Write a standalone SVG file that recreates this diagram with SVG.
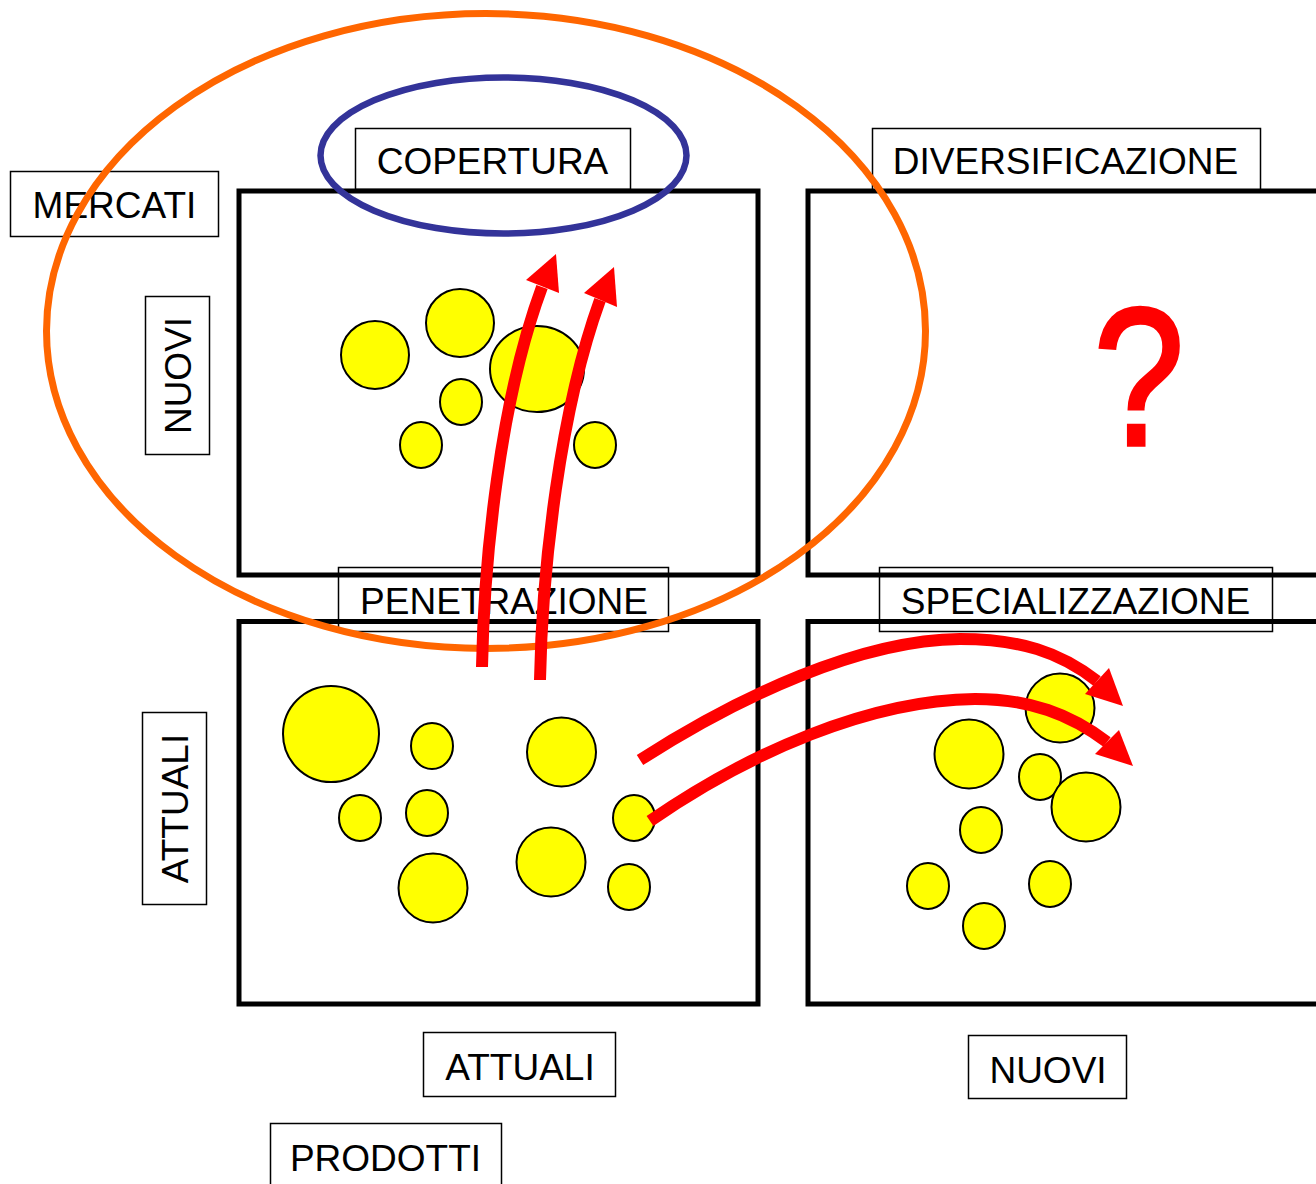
<svg xmlns="http://www.w3.org/2000/svg" width="1316" height="1184" viewBox="0 0 1316 1184">
<style>
.quad{fill:none;stroke:#000;stroke-width:5}
.lbl{fill:none;stroke:#000;stroke-width:1.5}
.txt{font-family:"Liberation Sans",Arial,sans-serif;font-size:37px;fill:#000;text-anchor:middle}
.dot{fill:#FFFF00;stroke:#000;stroke-width:2}
.arr{fill:none;stroke:#FF0000;stroke-width:12}
.head{fill:#FF0000}
</style>
<rect width="1316" height="1184" fill="#fff"/>
<g id="quadrants">
<rect id="q-tl" class="quad" x="239" y="191" width="519" height="384"/>
<rect id="q-tr" class="quad" x="808" y="191" width="530" height="384"/>
<rect id="q-bl" class="quad" x="239" y="621.5" width="519" height="382.5"/>
<rect id="q-br" class="quad" x="808" y="621.5" width="530" height="382.5"/>
</g>
<g id="dots-tl">
<circle class="dot" cx="375" cy="355" r="34"/>
<circle class="dot" cx="460" cy="323" r="34"/>
<ellipse class="dot" cx="537" cy="369" rx="47" ry="43"/>
<ellipse class="dot" cx="461" cy="402" rx="21" ry="23"/>
<ellipse class="dot" cx="421" cy="445" rx="21" ry="23"/>
<ellipse class="dot" cx="595" cy="445" rx="21" ry="23"/>
</g>
<g id="dots-bl">
<circle class="dot" cx="331" cy="734" r="48"/>
<ellipse class="dot" cx="432" cy="746" rx="21" ry="23"/>
<circle class="dot" cx="561.5" cy="752" r="34.5"/>
<ellipse class="dot" cx="360" cy="818" rx="21" ry="23"/>
<ellipse class="dot" cx="427" cy="813" rx="21" ry="23"/>
<ellipse class="dot" cx="634" cy="818" rx="21" ry="23"/>
<circle class="dot" cx="433" cy="888" r="34.5"/>
<circle class="dot" cx="551" cy="862" r="34.5"/>
<ellipse class="dot" cx="629" cy="887" rx="21" ry="23"/>
</g>
<g id="dots-br">
<circle class="dot" cx="1060" cy="708" r="34.5"/>
<circle class="dot" cx="969" cy="754" r="34.5"/>
<ellipse class="dot" cx="1040" cy="777" rx="21" ry="23"/>
<circle class="dot" cx="1086" cy="807" r="34.5"/>
<ellipse class="dot" cx="981" cy="830" rx="21" ry="23"/>
<ellipse class="dot" cx="928" cy="886" rx="21" ry="23"/>
<ellipse class="dot" cx="1050" cy="884" rx="21" ry="23"/>
<ellipse class="dot" cx="984" cy="926" rx="21" ry="23"/>
</g>
<g id="label-mercati"><rect class="lbl" x="10.5" y="171.5" width="208" height="65"/><text class="txt" x="114.5" y="218">MERCATI</text></g>
<g id="label-copertura"><rect class="lbl" x="355.5" y="128.5" width="275" height="61"/><text class="txt" x="492.5" y="174">COPERTURA</text></g>
<g id="label-diversificazione"><rect class="lbl" x="872.5" y="128.5" width="388" height="62"/><text class="txt" x="1065.5" y="174">DIVERSIFICAZIONE</text></g>
<g id="label-penetrazione"><rect class="lbl" x="338.5" y="567.5" width="330" height="64"/><text class="txt" x="504" y="614">PENETRAZIONE</text></g>
<g id="label-specializzazione"><rect class="lbl" x="879.5" y="567.5" width="393" height="64"/><text class="txt" x="1075.5" y="614">SPECIALIZZAZIONE</text></g>
<g id="label-nuovi-v"><rect class="lbl" x="145.5" y="296.5" width="64" height="158"/><text class="txt" transform="translate(191 375.5) rotate(-90)">NUOVI</text></g>
<g id="label-attuali-v"><rect class="lbl" x="142.5" y="712.5" width="64" height="192"/><text class="txt" transform="translate(188 808.5) rotate(-90)">ATTUALI</text></g>
<g id="label-attuali-h"><rect class="lbl" x="423.5" y="1032.5" width="192" height="64"/><text class="txt" x="520" y="1080">ATTUALI</text></g>
<g id="label-nuovi-h"><rect class="lbl" x="968.5" y="1035.5" width="158" height="63"/><text class="txt" x="1048" y="1083">NUOVI</text></g>
<g id="label-prodotti"><rect class="lbl" x="270.5" y="1123.5" width="231" height="70"/><text class="txt" x="385.5" y="1171">PRODOTTI</text></g>
<g id="question"><text transform="translate(1139 444.5) scale(0.86 1.04)" style="font-family:'Liberation Sans',Arial,sans-serif;font-size:190px;fill:#FF0000;stroke:#FF0000;stroke-width:3.5;stroke-linejoin:miter;text-anchor:middle">?</text></g>
<g id="ellipses">
<ellipse id="copertura-ring" cx="503.5" cy="155.5" rx="183" ry="78" fill="none" stroke="#333399" stroke-width="6.5"/>
<ellipse id="mercati-nuovi-ring" cx="486" cy="331" rx="439.5" ry="317.5" fill="none" stroke="#FF6600" stroke-width="7"/>
</g>
<g id="connectors">
<path class="arr" d="M482,667 C484,560 500,400 542,287"/>
<polygon class="head" points="556,254 526,280 559,293"/>
<path class="arr" d="M540,680 C542,570 560,410 600,300"/>
<polygon class="head" points="614,267 584,293 617,307"/>
<path class="arr" d="M640,760 C740,696 860,640 960,639 C1020,639 1060,652 1097,681"/>
<polygon class="head" points="1123,706 1109,668 1085,694"/>
<path class="arr" d="M650,821 C750,752 870,700 975,699 C1030,699 1070,714 1107,742"/>
<polygon class="head" points="1133,766 1119,730 1095,754"/>
</g>
</svg>
